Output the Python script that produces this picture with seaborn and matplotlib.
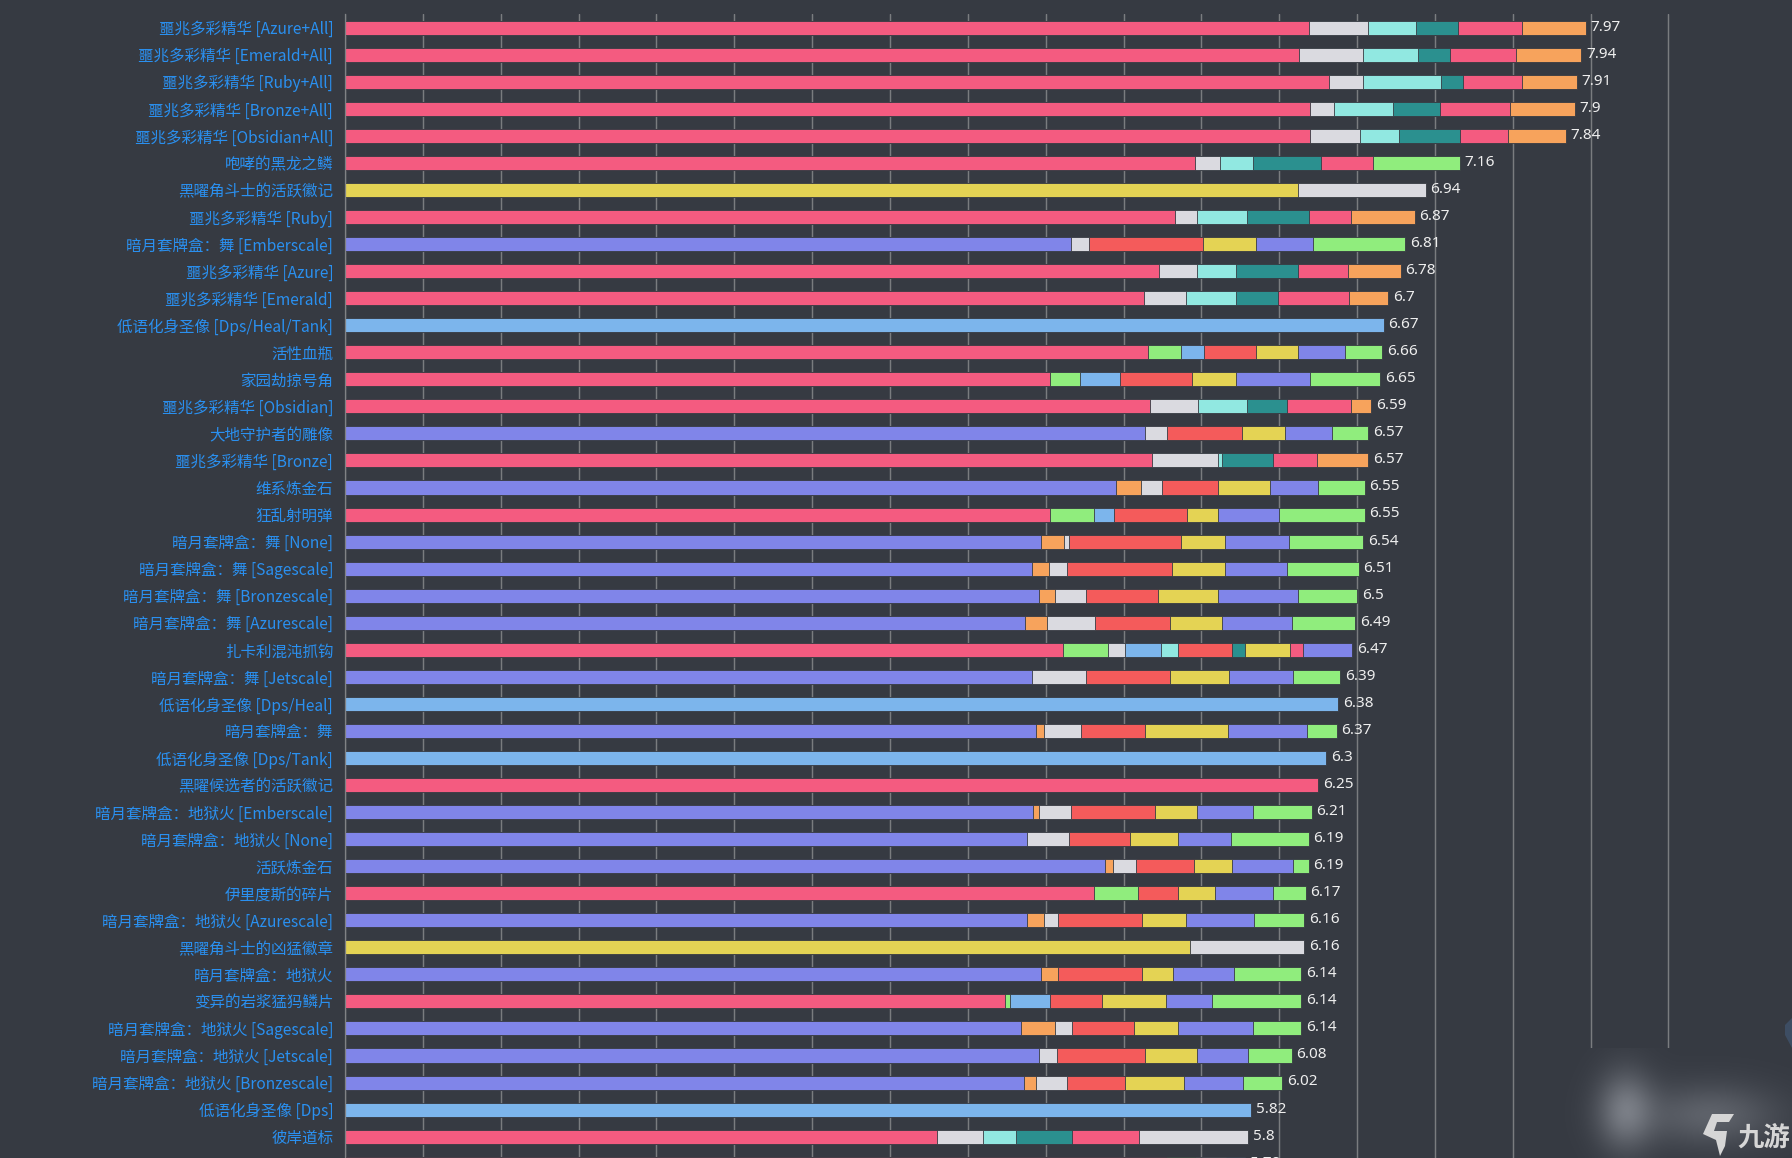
import numpy as np
import pandas as pd
import matplotlib
matplotlib.use("Agg")
import matplotlib.pyplot as plt
from matplotlib.patches import Polygon
import seaborn as sns

# Rows, top to bottom
item_names = [
    "噩兆多彩精华 [Azure+All]", "噩兆多彩精华 [Emerald+All]", "噩兆多彩精华 [Ruby+All]",
    "噩兆多彩精华 [Bronze+All]", "噩兆多彩精华 [Obsidian+All]", "咆哮的黑龙之鳞",
    "黑曜角斗士的活跃徽记", "噩兆多彩精华 [Ruby]", "暗月套牌盒：舞 [Emberscale]",
    "噩兆多彩精华 [Azure]", "噩兆多彩精华 [Emerald]", "低语化身圣像 [Dps/Heal/Tank]",
    "活性血瓶", "家园劫掠号角", "噩兆多彩精华 [Obsidian]", "大地守护者的雕像",
    "噩兆多彩精华 [Bronze]", "维系炼金石", "狂乱射明弹", "暗月套牌盒：舞 [None]",
    "暗月套牌盒：舞 [Sagescale]", "暗月套牌盒：舞 [Bronzescale]", "暗月套牌盒：舞 [Azurescale]",
    "扎卡利混沌抓钩", "暗月套牌盒：舞 [Jetscale]", "低语化身圣像 [Dps/Heal]", "暗月套牌盒：舞",
    "低语化身圣像 [Dps/Tank]", "黑曜候选者的活跃徽记", "暗月套牌盒：地狱火 [Emberscale]",
    "暗月套牌盒：地狱火 [None]", "活跃炼金石", "伊里度斯的碎片", "暗月套牌盒：地狱火 [Azurescale]",
    "黑曜角斗士的凶猛徽章", "暗月套牌盒：地狱火", "变异的岩浆猛犸鳞片",
    "暗月套牌盒：地狱火 [Sagescale]", "暗月套牌盒：地狱火 [Jetscale]",
    "暗月套牌盒：地狱火 [Bronzescale]", "低语化身圣像 [Dps]", "彼岸道标", " ",
]
item_totals = [
    7.97, 7.94, 7.91, 7.9, 7.84, 7.16, 6.94, 6.87, 6.81, 6.78, 6.7, 6.67, 6.66, 6.65,
    6.59, 6.57, 6.57, 6.55, 6.55, 6.54, 6.51, 6.5, 6.49, 6.47, 6.39, 6.38, 6.37, 6.3,
    6.25, 6.21, 6.19, 6.19, 6.17, 6.16, 6.16, 6.14, 6.14, 6.14, 6.08, 6.02, 5.82, 5.8, 5.78,
]

# One letter per segment, see kind_colors
segment_kinds = [
    "PSCTPO", "PSCTPO", "PSCTPO", "PSCTPO", "PSCTPO", "PSCTPG", "YS", "PSCTPO", "VSRYVG",
    "PSCTPO", "PSCTPO", "B", "PGBRYVG", "PGBRYVG", "PSCTPO", "VSRYVG", "PSCTPO", "VOSRYVG",
    "PGBRYVG", "VOSRYVG", "VOSRYVG", "VOSRYVG", "VOSRYVG", "PGSBCRTYPV", "VSRYVG", "B",
    "VOSRYVG", "B", "P", "VOSRYVG", "VSRYVG", "VOSRYVG", "PGRYVG", "VOSRYVG", "YS", "VORYVG",
    "PGBRYVG", "VOSRYVG", "VSRYVG", "VOSRYVG", "B", "PSCTPS", "PGSB",
]
segment_values = [
    [6.19, .38, .31, .27, .41, .41], [6.13, .41, .35, .21, .42, .42], [6.32, .22, .50, .14, .38, .35],
    [6.20, .15, .38, .30, .45, .42], [6.20, .32, .25, .39, .31, .37], [5.46, .16, .21, .44, .33, .56],
    [6.12, .82], [5.33, .14, .32, .40, .27, .41], [4.66, .12, .73, .34, .37, .59],
    [5.23, .24, .25, .40, .32, .34], [5.13, .27, .32, .27, .46, .25], [6.67],
    [5.16, .21, .15, .33, .27, .30, .24], [4.53, .19, .26, .46, .28, .48, .45],
    [5.17, .31, .31, .26, .41, .13], [5.14, .14, .48, .28, .30, .23], [5.18, .43, .02, .33, .28, .33],
    [4.95, .16, .14, .36, .33, .31, .30], [4.53, .28, .13, .47, .20, .39, .55],
    [4.47, .15, .03, .72, .28, .41, .48], [4.41, .11, .12, .67, .34, .40, .46],
    [4.46, .10, .20, .46, .39, .51, .38], [4.37, .14, .31, .48, .33, .45, .41],
    [4.61, .29, .11, .23, .11, .35, .08, .29, .08, .32], [4.41, .35, .54, .38, .41, .30], [6.38],
    [4.44, .05, .24, .41, .53, .51, .19], [6.3], [6.25], [4.42, .04, .20, .54, .27, .36, .38],
    [4.38, .27, .39, .31, .34, .50], [4.88, .05, .15, .37, .25, .39, .10],
    [4.81, .28, .26, .24, .37, .21], [4.38, .11, .09, .54, .28, .44, .32], [5.43, .73],
    [4.47, .11, .54, .20, .39, .43], [4.24, .03, .26, .33, .41, .30, .57],
    [4.34, .22, .11, .40, .28, .48, .31], [4.46, .11, .57, .33, .33, .28],
    [4.36, .08, .20, .37, .38, .38, .25], [5.82], [3.80, .30, .21, .36, .43, .70],
    [5.27, .19, .20, .12],
]

kind_colors = {
    "P": "#f45b80", "S": "#dadae0", "C": "#91e8e1", "T": "#2b908f", "O": "#f7a35c",
    "G": "#90ed7d", "B": "#7cb5ec", "R": "#f45b5b", "Y": "#e4d354", "V": "#8085e9",
}
bg = "#363a42"

sns.set_theme(style="darkgrid", rc={"axes.facecolor": bg, "figure.facecolor": bg})
plt.rcParams["font.family"] = ["Noto Sans CJK SC", "DejaVu Sans"]

# Stacked bars: each depth is drawn from its running total, longest first
rows = []
for name, kinds, vals in zip(item_names, segment_kinds, segment_values):
    for depth, (k, end) in enumerate(zip(kinds, np.cumsum(vals))):
        rows.append({"item": name, "depth": depth, "kind": k, "end": end})
df = pd.DataFrame(rows)

fig = plt.figure(figsize=(17.92, 11.58), dpi=100)
ax = fig.add_axes([345 / 1792, 0, 155.7 * 8.55 / 1792, 1144 / 1158])

for depth in sorted(df["depth"].unique(), reverse=True):
    sub = df[df["depth"] == depth]
    sns.barplot(data=sub, y="item", x="end", hue="kind", palette=kind_colors, order=item_names,
                orient="h", dodge=False, legend=False, width=0.52, saturation=1,
                edgecolor=bg, linewidth=0.6, errorbar=None, ax=ax)

ax.set_xlim(0, 8.55)
ax.set_ylim(41.79, -0.506)
ax.set_xlabel("")
ax.set_ylabel("")
ax.set_xticks(np.arange(0, 9, 0.5))
ax.tick_params(axis="x", length=0, labelbottom=False)
ax.tick_params(axis="y", length=0, pad=8.5, labelsize=11.2, labelcolor="#2a90f0")
ax.set_axisbelow(True)
ax.grid(axis="x", color="#7a7c7f", linewidth=1.05)
ax.grid(axis="y", visible=False)
for side in ["top", "right", "bottom"]:
    ax.spines[side].set_visible(False)
ax.spines["left"].set_color("#808285")
ax.spines["left"].set_linewidth(0.9)

for i, total in enumerate(item_totals):
    ax.annotate(f"{total:g}", (sum(segment_values[i]), i), xytext=(3.4, 0.4), textcoords="offset points",
                va="center", ha="left", color="#eeeeee", fontsize=11, family="Noto Sans",
                annotation_clip=False)

# Watermark: blurred patch over the grid, then the site logo
ow = fig.add_axes([1530 / 1792, 0, 262 / 1792, 110 / 1158], zorder=5)
ow.set_axis_off()
yy, xx = np.mgrid[1048:1158, 1530:1792]
glow = 60 * np.exp(-((xx - 1625) / 20) ** 2 / 2 - ((yy - 1110) / 28) ** 2 / 2)
glow = glow + 40 * np.exp(-((xx - 1710) / 48) ** 2 / 2 - ((yy - 1115) / 22) ** 2 / 2)
base = np.array([54, 58, 66])
patch = np.clip(base[None, None, :] + glow[:, :, None], 0, 255).astype(np.uint8)
ow.imshow(patch, aspect="auto", interpolation="bilinear")

fig.patches.append(Polygon([(1785 / 1792, 1 - 1025 / 1158), (1792 / 1792, 1 - 1018 / 1158),
                            (1792 / 1792, 1 - 1048 / 1158), (1785 / 1792, 1 - 1035 / 1158)],
                           closed=True, transform=fig.transFigure, facecolor="#3d4d63", edgecolor="none", zorder=6))
fig.patches.append(Polygon([(1712 / 1792, 1 - 1114 / 1158), (1734 / 1792, 1 - 1114 / 1158),
                            (1729 / 1792, 1 - 1122 / 1158), (1717 / 1792, 1 - 1122 / 1158),
                            (1714 / 1792, 1 - 1131 / 1158), (1727 / 1792, 1 - 1131 / 1158),
                            (1725 / 1792, 1 - 1146 / 1158), (1720 / 1792, 1 - 1156 / 1158),
                            (1716 / 1792, 1 - 1140 / 1158), (1703 / 1792, 1 - 1134 / 1158)],
                           closed=True, transform=fig.transFigure, facecolor="#d6d6d6", edgecolor="none", zorder=6))
fig.text(1737 / 1792, 1 - 1138 / 1158, "九游", color="#d6d6d6", fontsize=19, fontweight="bold",
         va="center", ha="left", zorder=7)

fig.savefig("out.png", dpi=100, facecolor=bg)
